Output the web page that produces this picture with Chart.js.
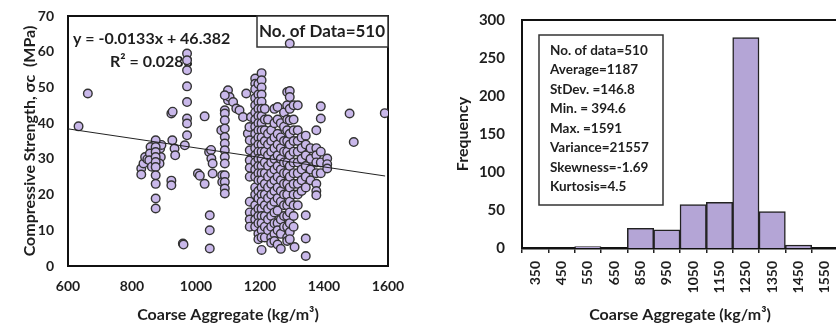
<!DOCTYPE html>
<html>
<head>
<meta charset="utf-8">
<script src="https://cdn.jsdelivr.net/npm/chart.js@4.4.1/dist/chart.umd.min.js"></script>
<style>
  html, body { margin: 0; padding: 0; background: #fff; }
  body { width: 836px; height: 327px; overflow: hidden; position: relative; }
  .box { position: absolute; top: 0; height: 327px; }
  #left { left: 0; width: 410px; }
  #right { left: 420px; width: 430px; }
</style>
</head>
<body>
<div class="box" id="left"><canvas id="scatterChart"></canvas></div>
<div class="box" id="right"><canvas id="histChart"></canvas></div>
<script>
// scatter: single points
const loosePoints = [
  [633, 39.1], [662, 48.3],
  [829, 27.3], [829, 25.6], [836, 28.7], [841, 30.5], [848, 29.9],
  [858, 33.3], [856, 31.5], [854, 29.6], [862, 27.8],
  [888, 32.9], [890, 30.5], [886, 28.7], [892, 33.9],
  [923, 42.7], [927, 43.2], [926, 35.2], [923, 23.9], [923, 22.6], [933, 32.9], [935, 31.0],
  [959, 6.3], [961, 6.0], [965, 33.8],
  [1006, 25.9], [1012, 25.3], [1027, 23.0], [1027, 41.9],
  [1041, 31.9], [1047, 32.5], [1048, 30.1], [1052, 28.7], [1052, 25.9],
  [1043, 14.2], [1043, 10.0], [1043, 4.9],
  [1079, 38.0], [1082, 25.4], [1082, 23.5], [1100, 49.2], [1100, 46.4],
  [1105, 47.3], [1116, 45.9], [1126, 44.1], [1136, 43.6], [1147, 41.7],
  [1157, 48.3], [1162, 37.1], [1167, 38.9], [1172, 41.7],
  [1293, 62.3], [1308, 5.3],
  [1480, 42.7], [1493, 34.7], [1590, 42.8]
];

// scatter: vertical stacks (x, then the strengths in that stack)
const stackX = [874, 972, 1090, 1168, 1185, 1195, 1205, 1215, 1225, 1235, 1245, 1255,
                1265, 1275, 1285, 1293, 1305, 1318, 1330, 1343, 1358, 1376, 1390, 1410];
const stackY = [
  [35.2, 33.3, 31.9, 30.5, 29.1, 27.7, 25.4, 23.0, 18.9, 16.1],
  [59.5, 57.6, 54.8, 50.3, 45.9, 41.3, 39.9, 36.6],
  [47.8, 43.6, 42.7, 40.8, 38.5, 36.1, 34.3, 32.4, 30.5, 28.7, 25.4, 23.5, 21.7, 20.3],
  [35.2, 32.4, 29.6, 27.5, 25, 18, 15, 13, 11],
  [52.5, 51, 49.5, 47, 45, 43, 41, 39, 37, 35, 33, 31, 29, 27, 25, 22, 20, 17, 15, 13, 11],
  [51, 48, 46, 44, 42, 40, 38, 36, 34, 32, 30, 28, 26, 24, 21, 19, 16, 14, 12, 9, 7.5],
  [54, 52, 50, 48, 46, 44, 42, 40, 38, 36, 34, 32, 30, 28, 26, 24, 22, 20, 18, 16, 14, 12, 10, 8, 4.5],
  [44, 41, 38, 35, 32, 29, 26, 23, 20, 17, 14, 11, 8],
  [41, 37, 34, 31, 28, 25, 22, 19, 16, 13, 10],
  [38, 35, 32, 29, 26, 23, 20, 17, 14, 11, 8, 6.5],
  [44, 40, 36, 33, 30, 27, 24, 21, 18, 15, 12, 9, 7],
  [44.5, 41, 37, 34, 31, 28, 25, 22, 19, 15.5, 12, 10, 6],
  [40, 36, 33, 30, 27, 24, 21, 18, 13, 9, 4.8],
  [43, 39, 35, 32, 29, 26, 23, 20, 17, 14, 11],
  [48.7, 45, 41, 38, 35, 32, 29, 26, 23, 20, 17, 14, 11, 8, 7],
  [49, 47.3, 44, 40.8, 37, 34, 31, 28, 25, 22, 18, 15, 12, 9.5, 7.5],
  [45, 41, 38, 35, 32, 29, 26, 23, 20, 17, 14, 11],
  [45, 38, 35, 32, 29, 26, 23, 20, 17],
  [36, 33, 30, 27, 24, 21],
  [36.5, 34, 31, 28, 25, 22, 14.2, 7.7, 2.8],
  [33, 30, 27, 24],
  [38, 33, 31, 29, 26, 23, 21, 19.8],
  [44.7, 41.3, 32, 29, 26],
  [30.1, 28.5, 27.3]
];

// trend line end points (y = -0.0133x + 46.382)
const trendX = [600, 1591];
const trendY = [38.4, 25.2];

// histogram
const binLabels = ['350', '450', '550', '650', '850', '950', '1050', '1150', '1250', '1350', '1450', '1550'];
const frequency = [0, 0, 2, 0, 26, 24, 57, 60, 277, 48, 4, 0];

const statsText = ['No. of data=510', 'Average=1187', 'StDev. =146.8', 'Min. = 394.6',
                   'Max. =1591', 'Variance=21557', 'Skewness=-1.69', 'Kurtosis=4.5'];

const FONT = 'Lato, "Open Sans", sans-serif';
const INK = '#1e1e1e';

const scatterData = loosePoints.map(p => ({x: p[0], y: p[1]}));
stackX.forEach((x, i) => stackY[i].forEach(y => scatterData.push({x: x, y: y})));

// frame + text notes drawn under the marks
const notesPlugin = {
  id: 'notes',
  beforeDatasetsDraw(chart, args, opts) {
    const {ctx, chartArea: a} = chart;
    ctx.save();
    ctx.strokeStyle = '#111';
    ctx.lineWidth = 2;
    ctx.strokeRect(a.left, a.top, a.right - a.left, a.bottom - a.top);
    if (opts.box) {
      ctx.lineWidth = 1.5;
      ctx.strokeStyle = '#333';
      ctx.fillStyle = '#fff';
      ctx.fillRect(a.left + opts.box[0], a.top + opts.box[1], opts.box[2], opts.box[3]);
      ctx.strokeRect(a.left + opts.box[0], a.top + opts.box[1], opts.box[2], opts.box[3]);
    }
    ctx.fillStyle = INK;
    ctx.textBaseline = 'middle';
    (opts.lines || []).forEach(l => {
      ctx.font = 'bold ' + l.size + 'px ' + FONT;
      ctx.textAlign = l.align || 'left';
      ctx.fillText(l.text, a.left + l.dx, a.top + l.dy);
    });
    ctx.restore();
  }
};

const plain = v => String(v);

new Chart(document.getElementById('scatterChart'), {
  type: 'scatter',
  data: {
    datasets: [{
      type: 'line',
      data: trendX.map((x, i) => ({x: x, y: trendY[i]})),
      borderColor: '#222',
      borderWidth: 1,
      pointRadius: 0,
      order: 0
    }, {
      data: scatterData,
      backgroundColor: '#c9b8ea',
      borderColor: '#333',
      borderWidth: 1.4,
      pointRadius: 4.3,
      order: 1
    }]
  },
  options: {
    responsive: true,
    maintainAspectRatio: false,
    animation: false,
    layout: { padding: { top: 16, right: 22, left: 0, bottom: 0 } },
    scales: {
      x: {
        type: 'linear', min: 600, max: 1600,
        grid: { display: false },
        border: { display: false },
        ticks: { stepSize: 200, padding: 4, callback: plain, color: INK, font: { family: FONT, size: 14, weight: 'bold' } },
        title: { display: true, text: 'Coarse Aggregate (kg/m³)', color: INK,
                 padding: { top: 0, bottom: 3 }, font: { family: FONT, size: 16, weight: 'bold' } },
        afterFit: s => { s.height = 61; }
      },
      y: {
        min: 0, max: 70,
        grid: { display: false },
        border: { display: false },
        ticks: { stepSize: 10, padding: 6, callback: plain, color: INK, font: { family: FONT, size: 14, weight: 'bold' } },
        title: { display: true, text: 'Compressive Strength, σc  (MPa)', color: INK,
                 padding: { top: 20, bottom: 0 }, font: { family: FONT, size: 16, weight: 'bold' } },
        afterFit: s => { s.width = 68; }
      }
    },
    plugins: {
      legend: { display: false },
      tooltip: { enabled: false },
      notes: {
        box: [189, 0, 131, 31],
        lines: [
          { text: 'No. of Data=510', dx: 254, dy: 16, size: 17, align: 'center' },
          { text: 'y = -0.0133x + 46.382', dx: 5, dy: 23, size: 16 },
          { text: 'R² = 0.0283', dx: 42, dy: 46, size: 16 }
        ]
      }
    }
  },
  plugins: [notesPlugin]
});

new Chart(document.getElementById('histChart'), {
  type: 'bar',
  data: {
    labels: binLabels,
    datasets: [{
      data: frequency,
      backgroundColor: '#b4a5d6',
      borderColor: '#222',
      borderWidth: 1.5,
      barPercentage: 1,
      categoryPercentage: 1
    }]
  },
  options: {
    responsive: true,
    maintainAspectRatio: false,
    animation: false,
    layout: { padding: { top: 20, right: 8, left: 0, bottom: 0 } },
    scales: {
      x: {
        grid: { display: true, drawOnChartArea: false, drawTicks: true, tickLength: 5, offset: true, color: '#222', lineWidth: 1.5 },
        border: { display: true, color: '#111', width: 2.5 },
        ticks: { minRotation: 90, maxRotation: 90, autoSkip: false, padding: 8, color: INK,
                 font: { family: FONT, size: 14, weight: 'bold' } },
        title: { display: true, text: 'Coarse Aggregate (kg/m³)', color: INK,
                 padding: { top: 0, bottom: 3 }, font: { family: FONT, size: 16, weight: 'bold' } },
        afterFit: s => { s.height = 79; }
      },
      y: {
        min: 0, max: 300,
        grid: { display: false },
        border: { display: false },
        ticks: { stepSize: 50, padding: 9, callback: plain, color: INK, font: { family: FONT, size: 15, weight: 'bold' } },
        title: { display: true, text: 'Frequency', color: INK,
                 padding: { top: 33, bottom: 0 }, font: { family: FONT, size: 16, weight: 'bold' } },
        afterFit: s => { s.width = 102; }
      }
    },
    plugins: {
      legend: { display: false },
      tooltip: { enabled: false },
      notes: {
        box: [17, 15, 124, 170],
        lines: statsText.map((t, i) => ({ text: t, dx: 28, dy: 30.5 + i * 19.5, size: 13.5 }))
      }
    }
  },
  plugins: [notesPlugin]
});
</script>
</body>
</html>
